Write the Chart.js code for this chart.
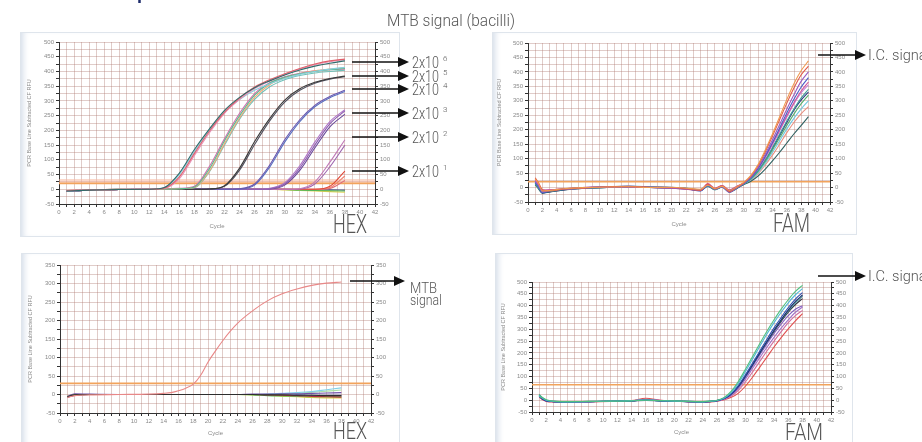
<!DOCTYPE html>
<html>
<head>
<meta charset="utf-8">
<script src="https://cdn.jsdelivr.net/npm/chart.js@4.4.0/dist/chart.umd.min.js"></script>
<style>
html, body { margin: 0; padding: 0; background: #fff; width: 922px; height: 442px; overflow: hidden; }
.panel { position: absolute; box-sizing: border-box; border: 1px solid #dfe5ec; background: #fff; box-shadow: inset 6px 0 6px -4px #d3dce8; }
canvas { position: absolute; }
svg { position: absolute; left: 0; top: 0; }
.lbl { font-family: 'Liberation Sans Narrow', 'Roboto', 'Open Sans', sans-serif; font-weight: 300; fill: #555; }
</style>
</head>
<body>
<div class="panel" style="left:20px;top:32px;width:380px;height:205px"></div>
<div class="panel" style="left:492px;top:32px;width:365px;height:203px"></div>
<div class="panel" style="left:21px;top:253px;width:379px;height:195px"></div>
<div class="panel" style="left:495px;top:253px;width:358px;height:195px"></div>

<canvas id="hexTop" width="380" height="205" style="left:20px;top:32px"></canvas>
<canvas id="famTop" width="365" height="203" style="left:492px;top:32px"></canvas>
<canvas id="hexBottom" width="379" height="189" style="left:21px;top:253px"></canvas>
<canvas id="famBottom" width="358" height="189" style="left:495px;top:253px"></canvas>

<svg width="922" height="442">
  <text x="137" y="-1" font-size="18" font-weight="bold" fill="#1d2b6b" font-family="Liberation Sans">p</text>
  <text class="lbl" x="387" y="26" font-size="16" textLength="128" lengthAdjust="spacingAndGlyphs">MTB signal (bacilli)</text>

  <g stroke="#111" stroke-width="1.5" fill="#111">
    <line x1="352" y1="62" x2="399" y2="62"/><polygon points="398,57 409,62 398,67" stroke="none"/>
    <line x1="352" y1="76" x2="399" y2="76"/><polygon points="398,71 409,76 398,81" stroke="none"/>
    <line x1="352" y1="89" x2="399" y2="89"/><polygon points="398,84 409,89 398,94" stroke="none"/>
    <line x1="352" y1="113" x2="399" y2="113"/><polygon points="398,108 409,113 398,118" stroke="none"/>
    <line x1="352" y1="137" x2="399" y2="137"/><polygon points="398,132 409,137 398,142" stroke="none"/>
    <line x1="352" y1="171" x2="399" y2="171"/><polygon points="398,166 409,171 398,176" stroke="none"/>
    <line x1="818" y1="55" x2="856" y2="55"/><polygon points="855,50 866,55 855,60" stroke="none"/>
    <line x1="350" y1="281" x2="395" y2="281"/><polygon points="394,276 405,281 394,286" stroke="none"/>
    <line x1="818" y1="276" x2="856" y2="276"/><polygon points="855,271 866,276 855,281" stroke="none"/>
  </g>

  <text class="lbl" x="412" y="68" font-size="16"><tspan textLength="27" lengthAdjust="spacingAndGlyphs">2x10</tspan><tspan dx="4" dy="-7" font-size="8">6</tspan></text>
  <text class="lbl" x="412" y="82" font-size="16"><tspan textLength="27" lengthAdjust="spacingAndGlyphs">2x10</tspan><tspan dx="4" dy="-7" font-size="8">5</tspan></text>
  <text class="lbl" x="412" y="95" font-size="16"><tspan textLength="27" lengthAdjust="spacingAndGlyphs">2x10</tspan><tspan dx="4" dy="-7" font-size="8">4</tspan></text>
  <text class="lbl" x="412" y="119" font-size="16"><tspan textLength="27" lengthAdjust="spacingAndGlyphs">2x10</tspan><tspan dx="4" dy="-7" font-size="8">3</tspan></text>
  <text class="lbl" x="412" y="143" font-size="16"><tspan textLength="27" lengthAdjust="spacingAndGlyphs">2x10</tspan><tspan dx="4" dy="-7" font-size="8">2</tspan></text>
  <text class="lbl" x="412" y="177" font-size="16"><tspan textLength="27" lengthAdjust="spacingAndGlyphs">2x10</tspan><tspan dx="4" dy="-7" font-size="8">1</tspan></text>

  <text class="lbl" x="868" y="60" font-size="15" textLength="62" lengthAdjust="spacingAndGlyphs">I.C. signal</text>
  <text class="lbl" x="868" y="281" font-size="15" textLength="62" lengthAdjust="spacingAndGlyphs">I.C. signal</text>
  <text class="lbl" x="410" y="293" font-size="15" textLength="27" lengthAdjust="spacingAndGlyphs">MTB</text>
  <text class="lbl" x="410" y="305" font-size="15" textLength="32" lengthAdjust="spacingAndGlyphs">signal</text>

  <text class="lbl" x="333" y="233" font-size="26" textLength="34" lengthAdjust="spacingAndGlyphs">HEX</text>
  <text class="lbl" x="773" y="232" font-size="26" textLength="37" lengthAdjust="spacingAndGlyphs">FAM</text>
  <text class="lbl" x="333" y="439" font-size="24" textLength="34" lengthAdjust="spacingAndGlyphs">HEX</text>
  <text class="lbl" x="785" y="440" font-size="24" textLength="38" lengthAdjust="spacingAndGlyphs">FAM</text>
</svg>

<script>
'use strict';

// HEX, standard dilutions (top left)
var hexTopCycles = [1, 4, 8, 12, 14, 16, 18, 20, 22, 24, 26, 28, 30, 32, 34, 36, 38];
var hexTopValues = [
    [-6, -3, -1, 0, 6, 55, 135, 205, 268, 312, 345, 368, 388, 405, 418, 428, 436],
    [-5, -3, -1, 0, 4, 42, 122, 198, 262, 310, 347, 372, 392, 410, 425, 436, 442],
    [-4, -2, 0, 1, 3, 36, 115, 192, 258, 305, 342, 368, 390, 408, 423, 433, 440],
    [-6, -3, -1, 0, 5, 50, 128, 200, 262, 305, 336, 358, 376, 390, 400, 408, 414],
    [-5, -2, 0, 0, 1, 2, 8, 70, 165, 250, 320, 360, 380, 392, 400, 406, 410],
    [-4, -2, -1, 0, 1, 2, 6, 62, 155, 242, 312, 355, 378, 392, 402, 408, 412],
    [-6, -3, -1, 0, 1, 3, 10, 78, 172, 258, 325, 362, 382, 394, 402, 406, 408],
    [-5, -2, -1, 0, 0, 2, 5, 60, 150, 238, 305, 348, 372, 386, 395, 400, 404],
    [-6, -3, -1, 0, 0, 0, 0, 1, 12, 72, 162, 240, 303, 341, 363, 376, 384],
    [-5, -3, -1, 0, 0, 0, 0, 1, 10, 65, 152, 232, 296, 336, 360, 374, 382],
    [-6, -3, -1, 0, 0, 0, 0, 0, 0, 2, 18, 82, 168, 236, 285, 315, 336],
    [-5, -2, -1, 0, 0, 0, 0, 0, 0, 1, 14, 75, 160, 230, 280, 311, 332],
    [-6, -3, -1, 0, 0, 0, 0, 0, 0, 0, 0, 2, 18, 72, 150, 222, 266],
    [-5, -3, -1, 0, 0, 0, 0, 0, 0, 0, 0, 3, 22, 80, 160, 230, 270],
    [-5, -2, -1, 0, 0, 0, 0, 0, 0, 0, 0, 1, 14, 64, 140, 212, 255],
    [-5, -3, -1, 0, 0, 0, 0, 0, 0, 0, 0, 0, 0, 2, 25, 92, 168],
    [-4, -2, 0, 0, 0, 0, 0, 0, 0, 0, 0, 0, 0, 1, 18, 76, 150],
    [-6, -3, -1, 0, 0, 0, 0, 0, 0, 0, 0, 0, 0, 0, 0, 10, 62],
    [-5, -2, -1, 0, 0, 0, 0, 0, 0, 0, 0, 0, 0, 0, 0, 6, 45],
    [-4, -2, 0, 0, 0, 0, 0, 0, 0, 0, 0, 0, 0, 0, 0, 3, 30],
    [-5, -2, 0, 0, 0, 0, 0, 0, 0, 0, 0, 0, -1, -3, -4, -5, -6],
    [-4, -2, 0, 0, 0, 0, 0, 0, 0, 0, 0, 0, -2, -4, -6, -8, -10],
    [-6, -3, -1, 0, 0, 0, 0, 0, 0, 0, 0, 0, 0, -1, -2, -2, -3]
];
var hexTopColors = ['#2f6b6b', '#e0606a', '#e892b8', '#86cfe0', '#5cba8c', '#f0a878', '#d070b0', '#70c0b8',
    '#3a3a3a', '#50505e', '#6a58b0', '#5870c0', '#8a5cb0', '#b078c8', '#6a4a9a', '#c07ab8', '#a068b0',
    '#e04838', '#f08070', '#e0707a', '#58b858', '#e0d050', '#40508a'];
var hexTopThresholds = [20, 28];

// FAM, internal control (top right)
var famTopCycles = [1, 1.5, 2, 3, 5, 8, 11, 14, 17, 20, 22, 24, 25, 26, 27, 28, 29, 30, 31, 32, 33, 34, 35, 36, 37, 38, 39];
var famTopValues = [
    [30, 12, -12, -10, -4, 0, 2, 3, 0, 1, -2, -6, 8, -3, 4, -10, 2, 18, 42, 80, 130, 185, 245, 305, 360, 405, 438],
    [34, 15, -8, -12, -5, -1, 3, 4, 1, 0, -4, -10, 12, -5, 6, -14, 0, 16, 40, 76, 124, 178, 235, 292, 345, 390, 420],
    [22, 5, -15, -10, -6, -2, 1, 2, 0, -1, -5, -8, 10, -6, 3, -16, -2, 15, 36, 70, 115, 165, 218, 272, 322, 368, 400],
    [18, 0, -18, -12, -5, 0, 2, 4, 2, 0, -3, -12, 6, -4, 2, -12, 1, 14, 34, 66, 108, 156, 206, 258, 306, 348, 380],
    [26, 8, -10, -8, -4, 1, 3, 2, 0, -2, -6, -9, 14, -2, 7, -8, 4, 16, 35, 66, 106, 152, 200, 248, 294, 334, 365],
    [14, -4, -16, -14, -7, -1, 0, 2, 1, 0, -4, -10, 4, -8, 1, -15, -3, 12, 30, 58, 95, 138, 184, 230, 272, 310, 340],
    [12, -2, -14, -12, -6, -2, 1, 3, 1, -1, -3, -7, 9, -4, 5, -10, 0, 13, 30, 56, 90, 130, 172, 215, 255, 290, 320],
    [20, 4, -12, -10, -5, 0, 2, 5, 3, 1, -2, -8, 7, -5, 3, -12, 2, 12, 28, 52, 84, 122, 162, 203, 240, 272, 300],
    [16, 2, -18, -15, -8, -3, 0, 2, 0, -2, -5, -11, 5, -7, 2, -17, -4, 12, 30, 57, 93, 135, 180, 225, 268, 303, 330],
    [28, 10, -8, -9, -4, 0, 3, 4, 2, 1, -3, -9, 11, -3, 6, -11, 3, 15, 34, 64, 103, 148, 196, 244, 290, 328, 355],
    [10, -6, -20, -15, -8, -2, 0, 1, 0, -1, -4, -9, 6, -6, 2, -13, -1, 10, 22, 40, 64, 92, 122, 154, 186, 215, 245],
    [24, 6, -10, -8, -4, 0, 2, 3, 1, 0, -3, -8, 9, -4, 4, -11, 1, 11, 26, 48, 78, 112, 150, 190, 226, 256, 280]
];
var famTopColors = ['#f09a50', '#e05a4a', '#9a5cc0', '#4a5cc8', '#d0509a', '#3f9a9a', '#58b070', '#72c8e0',
    '#2c3a80', '#c088d8', '#2f6060', '#e89080'];
var famTopThresholds = [20];

// HEX, single positive sample (bottom left)
var hexBottomCycles = [1, 2, 4, 8, 12, 14, 15, 16, 17, 18, 19, 20, 21, 22, 23, 24, 26, 28, 30, 32, 34, 36, 38];
var hexBottomValues = [
    [-8, -3, -1, 0, 1, 3, 5, 10, 17, 28, 52, 88, 118, 146, 171, 193, 226, 253, 272, 285, 295, 301, 304],
    [-6, -1, 0, 0, 0, 0, 0, 0, 0, 0, 0, 0, 0, 0, 0, 0, 0, -1, -1, -2, -2, -3, -3],
    [-5, 2, 1, 0, 0, 0, 0, 0, 0, 0, 0, 0, 0, 0, 0, 0, 1, 1, 2, 2, 3, 4, 5],
    [-7, -2, 0, 0, 0, 0, 0, 0, 0, 0, 0, 0, 0, 0, 0, 0, 0, -1, -2, -3, -5, -6, -7],
    [-6, -1, 0, 0, 0, 0, 0, 0, 0, 0, 0, 0, 0, 0, 0, 0, -1, -3, -4, -5, -6, -6, -6],
    [-5, 0, 0, 0, 0, 0, 0, 0, 0, 0, 0, 0, 0, 0, 0, 0, -1, -2, -5, -6, -8, -9, -9],
    [-6, -1, 0, 0, 0, 0, 0, 0, 0, 0, 0, 0, 0, 0, 0, 0, 0, 1, 3, 5, 8, 13, 18],
    [-5, 0, 0, 0, 0, 0, 0, 0, 0, 0, 0, 0, 0, 0, 0, 0, 0, 0, 1, 3, 6, 9, 12],
    [-7, -2, 0, 0, 0, 0, 0, 0, 0, 0, 0, 0, 0, 0, 0, 0, 0, 0, -1, -1, -2, -2, -2]
];
var hexBottomColors = ['#e88888', '#2e2e2e', '#7050a8', '#b03040', '#60c060', '#e0d040', '#80d0e8', '#a8e0a8', '#4060b0'];
var hexBottomThresholds = [30];

// FAM, single positive sample (bottom right)
var famBottomCycles = [1, 1.5, 2, 3, 5, 8, 11, 14, 16, 18, 20, 22, 24, 25, 26, 27, 28, 29, 30, 31, 32, 33, 34, 35, 36, 37, 38];
var famBottomValues = [
    [22, 10, 2, -4, -6, -5, -4, -3, 0, -2, -3, -5, -6, -4, 0, 12, 38, 80, 132, 186, 240, 292, 340, 385, 425, 460, 486],
    [18, 8, 0, -5, -7, -6, -4, -2, 1, -2, -4, -5, -7, -5, -1, 9, 33, 72, 122, 175, 228, 280, 328, 372, 412, 446, 472],
    [20, 6, -2, -6, -7, -6, -5, -3, 0, -3, -4, -6, -7, -5, -2, 8, 28, 62, 108, 158, 208, 258, 306, 350, 392, 428, 455],
    [16, 4, -3, -6, -8, -6, -5, -3, -1, -3, -5, -6, -8, -6, -2, 7, 26, 58, 102, 150, 200, 248, 296, 340, 382, 418, 445],
    [24, 9, 0, -5, -6, -5, -4, -2, 2, -2, -3, -5, -6, -4, -1, 8, 27, 60, 104, 152, 200, 248, 294, 338, 378, 412, 440],
    [20, 7, -1, -5, -7, -6, -5, -3, 3, -2, -4, -5, -7, -5, -2, 6, 24, 55, 98, 145, 192, 238, 282, 322, 358, 385, 400],
    [18, 5, -2, -6, -7, -6, -4, -2, 1, -3, -4, -6, -7, -6, -2, 5, 22, 50, 90, 135, 180, 224, 266, 305, 340, 372, 394],
    [14, 3, -4, -7, -8, -6, -5, -3, 4, -1, -3, -6, -8, -6, -3, 4, 18, 42, 78, 120, 164, 208, 250, 290, 328, 358, 380],
    [12, 2, -5, -8, -8, -7, -5, -2, 8, 0, -3, -6, -8, -7, -4, 2, 12, 30, 60, 98, 140, 182, 225, 265, 302, 336, 366],
    [15, 4, -3, -6, -7, -6, -5, -3, 0, -3, -4, -6, -8, -6, -3, 6, 25, 57, 100, 148, 196, 243, 290, 333, 372, 404, 430]
];
var famBottomColors = ['#50c080', '#50b8d8', '#3050b0', '#203070', '#409090', '#8060c0', '#a070c8', '#d070a0', '#e05050', '#303040'];
var famBottomThresholds = [65];

var gridColor = 'rgba(170, 115, 105, 0.36)';
var tickFont = { family: 'Liberation Sans', size: 6 };

function yAxis(min, max, width, position) {
    return {
        type: 'linear', position: position, min: min, max: max,
        afterFit: function(scale) { scale.width = width; },
        border: { color: '#333', width: 1 },
        grid: { color: gridColor, tickColor: '#333', tickLength: 3, drawOnChartArea: position === 'left' },
        ticks: {
            stepSize: 25, autoSkip: false, font: tickFont, color: '#8a8a8a', padding: 2,
            callback: function(v) { return v % 50 === 0 ? String(v) : ''; }
        },
        title: {
            display: position === 'left', text: 'PCR Base Line Subtracted CF RFU',
            font: { family: 'Liberation Sans', size: 5.5 }, color: '#8a8a8a', padding: { top: 0, bottom: 1 }
        }
    };
}

function buildChart(id, cycles, values, colors, thresholds, opts) {
    var datasets = [];
    values.forEach(function(row, i) {
        datasets.push({
            data: cycles.map(function(c, k) { return { x: c, y: row[k] }; }),
            borderColor: colors[i],
            borderWidth: 1.1,
            pointRadius: 0,
            cubicInterpolationMode: 'monotone',
            fill: false
        });
    });
    thresholds.forEach(function(t, i) {
        datasets.push({
            data: [{ x: 0, y: t }, { x: 42, y: t }],
            borderColor: i === 0 ? '#f2a35c' : 'rgba(246, 184, 160, 0.55)',
            borderWidth: i === 0 ? 1.6 : 4,
            pointRadius: 0,
            fill: false
        });
    });

    new Chart(document.getElementById(id).getContext('2d'), {
        type: 'line',
        data: { datasets: datasets },
        options: {
            responsive: false,
            animation: false,
            devicePixelRatio: 1,
            layout: { padding: opts.padding },
            plugins: { legend: { display: false }, tooltip: { enabled: false } },
            scales: {
                x: {
                    type: 'linear', min: 0, max: 42,
                    afterFit: function(scale) { scale.height = opts.xHeight; },
                    border: { color: '#333', width: 1 },
                    grid: { color: gridColor, tickColor: '#333', tickLength: 3 },
                    ticks: {
                        stepSize: 1, autoSkip: false, maxRotation: 0, font: tickFont, color: '#8a8a8a', padding: 2,
                        callback: function(v) { return v % 2 === 0 ? String(v) : ''; }
                    },
                    title: {
                        display: true, text: 'Cycle', font: { family: 'Liberation Sans', size: 6 },
                        color: '#8a8a8a', padding: { top: 2, bottom: 0 }
                    }
                },
                y: yAxis(opts.yMin, opts.yMax, opts.leftWidth, 'left'),
                y2: yAxis(opts.yMin, opts.yMax, opts.rightWidth, 'right')
            }
        }
    });
}

buildChart('hexTop', hexTopCycles, hexTopValues, hexTopColors, hexTopThresholds, {
    padding: { left: 6, right: 0, top: 10, bottom: 7 }, xHeight: 26, leftWidth: 33, rightWidth: 25, yMin: -50, yMax: 500
});
buildChart('famTop', famTopCycles, famTopValues, famTopColors, famTopThresholds, {
    padding: { left: 4, right: 0, top: 11, bottom: 7 }, xHeight: 26, leftWidth: 32, rightWidth: 27, yMin: -50, yMax: 500
});
buildChart('hexBottom', hexBottomCycles, hexBottomValues, hexBottomColors, hexBottomThresholds, {
    padding: { left: 6, right: 0, top: 12, bottom: 5 }, xHeight: 24, leftWidth: 33, rightWidth: 29, yMin: -50, yMax: 350
});
buildChart('famBottom', famBottomCycles, famBottomValues, famBottomColors, famBottomThresholds, {
    padding: { left: 5, right: 0, top: 29, bottom: 6 }, xHeight: 24, leftWidth: 32, rightWidth: 22, yMin: -50, yMax: 500
});
</script>
</body>
</html>
